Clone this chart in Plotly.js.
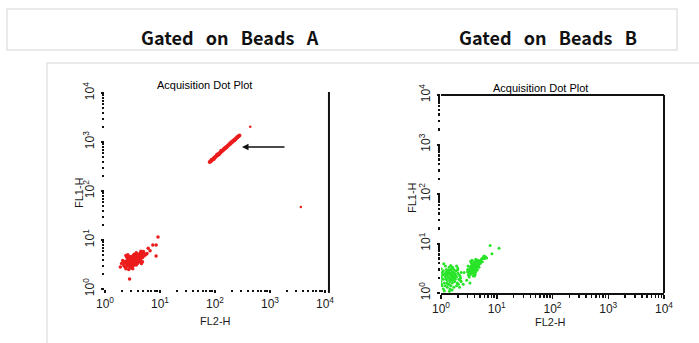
<!DOCTYPE html>
<html>
<head>
<meta charset="utf-8">
<script src="https://cdn.plot.ly/plotly-3.0.1.min.js"></script>
<style>html,body{margin:0;padding:0;background:#fff;}#chart{width:699px;height:343px;}</style>
</head>
<body>
<div id="chart"></div>
<script>
// ---- Data ----
const headerTexts = ["Gated\u00a0\u00a0 on\u00a0\u00a0 Beads\u00a0\u00a0 A", "Gated\u00a0\u00a0 on\u00a0\u00a0 Beads\u00a0\u00a0 B"];
const plotTitle = "Acquisition Dot Plot";
const xAxisTitle = "FL2-H";
const yAxisTitle = "FL1-H";
const tickValues = [1, 10, 100, 1000, 10000];
const tickLabels = ["10<sup>0</sup>", "10<sup>1</sup>", "10<sup>2</sup>", "10<sup>3</sup>", "10<sup>4</sup>"];

// Beads A: low cluster
const redClusterX = [3.1,3.3,2.9,3.5,3.0,3.4,2.8,3.6,3.2,3.7,2.7,3.9,3.1,2.6,4.1,3.4,2.9,3.8,3.3,2.5,
  4.3,3.6,2.8,4.0,3.0,3.5,2.4,4.5,3.2,2.7,3.9,4.4,2.6,3.1,2.3,4.7,3.7,2.5,4.2,3.4,
  4.9,2.2,3.8,3.0,3.3,2.9,4.6,2.1,5.1,3.6,2.4,4.1,3.2,2.8,5.3,3.5,2.0,4.4,3.1,2.7,
  3.9,5.0,3.3,2.6,4.8,3.7,2.3,4.2,3.0,3.4,1.9,5.5,2.9,4.0,3.6,2.5,4.5,3.2,3.8,2.8,
  5.8,3.5,2.2,4.3,3.1,2.7,4.0,3.4,3.0,3.7,2.4,4.6,2.6,4.8,
  6.6,7.4,8.5,8.5,9.2,2.8,6.1];
const redClusterY = [3.7,3.9,3.5,4.1,4.0,3.6,3.8,3.8,4.3,4.4,3.3,4.2,3.2,3.6,4.6,4.5,4.2,3.5,3.4,3.1,
  4.9,4.8,3.0,3.9,3.4,3.3,3.7,4.3,4.7,4.1,5.0,5.3,2.9,2.8,3.4,4.9,3.1,4.4,3.6,5.1,
  5.4,3.0,4.0,3.7,3.0,2.7,5.6,3.8,4.7,4.2,2.6,5.2,3.6,4.6,5.2,3.9,3.3,4.0,4.1,2.5,
  3.3,5.8,4.8,4.0,4.4,5.5,2.8,4.4,3.1,4.3,2.8,5.0,3.9,4.7,3.4,3.5,5.9,2.6,4.6,3.4,
  5.3,4.5,3.6,3.8,4.4,3.7,4.3,3.7,4.5,3.7,4.8,3.3,5.0,3.6,
  6.0,7.9,7.9,4.7,11.5,1.6,6.8];
// Beads A: bright diagonal population
const redLineX = [80,84,88,92,96,100,104,108,112,117,122,127,132,138,144,150,157,164,171,179,
  187,195,204,213,223,233,243,254,265,278,95,110,130,160,190,225,86,118,148,200];
const redLineY = [390,405,428,445,470,488,505,528,545,570,598,620,645,672,705,735,768,800,838,875,
  915,955,1000,1045,1090,1140,1190,1245,1300,1360,450,555,660,770,940,1080,430,565,740,990];
// Beads A: isolated events
const redOutlierX = [437, 3630];
const redOutlierY = [2040, 47];

// Beads B: first cluster
const greenCluster1X = [1.4,1.5,1.3,1.6,1.2,1.45,1.7,1.35,1.1,1.55,1.25,1.8,1.4,1.0,1.65,1.15,1.5,1.3,1.9,1.05,
  1.45,1.75,1.2,1.6,2.0,1.35,1.1,1.55,1.25,1.85,1.0,1.4,2.1,1.7,1.3,1.15,1.6,1.95,1.05,1.5,
  2.2,1.25,1.8,1.4,1.0,1.65,2.3,1.1,1.55,1.35,2.2,1.2,1.75,1.45,2.0,1.3,1.9,1.02,1.6,1.5,
  2.1,1.15,1.7,1.38,1.08,2.0,1.28,1.82,1.48,1.62,1.02,2.05,1.22,1.58,1.9,1.12,2.25,2.3,2.15,1.42];
const greenCluster1Y = [2.0,2.2,1.8,2.4,2.1,1.7,2.0,2.5,1.9,1.9,2.3,2.3,1.5,2.2,2.7,1.6,2.9,2.7,2.1,2.6,
  2.4,1.7,1.4,1.6,2.5,2.1,2.8,3.1,1.9,2.8,1.7,3.3,1.9,3.0,1.3,2.4,2.1,1.6,1.4,1.4,
  2.2,3.0,1.9,2.6,3.1,2.2,2.6,1.2,2.6,1.5,1.8,3.5,2.5,1.2,3.2,2.3,1.4,2.0,1.8,3.6,
  2.3,1.1,1.3,2.9,2.3,2.9,1.6,2.2,1.9,3.3,1.5,1.5,2.6,1.15,3.5,3.9,2.0,1.7,1.3,1.08];
// Beads B: second cluster and sparse events
const greenCluster2X = [3.9,3.7,4.1,3.5,4.3,3.8,4.0,3.6,4.4,3.3,4.2,3.9,3.4,4.6,3.7,4.0,3.2,4.5,3.8,4.1,
  3.5,4.8,3.6,4.3,3.3,5.0,3.9,4.4,3.1,4.7,3.6,5.2,4.0,3.4,4.9,3.8,5.4,4.2,3.0,4.6,
  3.7,5.7,4.1,3.2,5.1,4.5,3.0,6.0,3.5,4.3,6.3,3.1,5.5,3.9,3.05,4.8,6.6,3.2,4.0,5.9,
  3.4,3.6,4.2,3.8,
  2.6,2.9,3.3,2.5,7.6,11.0,8.2];
const greenCluster2Y = [3.2,3.0,3.5,2.8,3.7,3.4,2.9,3.3,3.3,2.7,3.1,3.8,3.1,3.9,2.6,3.6,2.9,3.5,2.8,4.1,
  3.5,4.2,2.5,3.0,3.3,4.4,2.5,4.3,2.6,3.6,3.8,4.7,3.3,2.4,3.9,3.1,4.9,2.7,3.0,4.6,
  3.5,5.2,2.4,2.3,4.0,2.9,2.7,4.9,4.1,4.5,5.4,2.3,4.3,4.3,3.5,3.3,5.1,2.1,2.2,5.6,
  4.4,4.6,4.8,2.2,
  2.6,1.8,1.6,1.5,9.1,8.0,6.2];

// ---- Helpers (config, not data) ----
const W = 699, H = 343;
const px = v => v / W;
const py = v => 1 - v / H;
const minorVals = [];
for (let d = 1; d <= 1000; d *= 10) for (let k = 2; k <= 9; k++) minorVals.push(k * d);

const red = 'rgb(236,28,28)';
const green = 'rgb(40,228,40)';
const tickFont = {family: 'Liberation Sans, Arial, sans-serif', size: 12, color: '#1a1a1a'};
const labelFont = {family: 'Liberation Sans, Arial, sans-serif', size: 11, color: '#1a1a1a'};
const titleFont = {family: 'Liberation Sans, Arial, sans-serif', size: 11, color: '#000'};
const headFont = {family: 'Noto Sans CJK JP, sans-serif', size: 18, color: '#111'};

function dotAxis(extra) {
  return Object.assign({
    type: 'log', range: [0, 4], tickmode: 'array', tickvals: tickValues, ticktext: tickLabels,
    ticks: 'outside', ticklen: 3, tickwidth: 2, tickcolor: '#111',
    minor: {tickmode: 'array', tickvals: minorVals, ticks: 'outside', ticklen: 2, tickwidth: 2, tickcolor: '#111'},
    showline: false, showgrid: false, zeroline: false, tickfont: tickFont, fixedrange: true
  }, extra);
}

function label(text, x, y, font, extra) {
  return Object.assign({text: text, xref: 'paper', yref: 'paper', x: px(x), y: py(y),
    xanchor: 'center', yanchor: 'middle', showarrow: false, font: font}, extra || {});
}

const traces = [
  {x: redClusterX, y: redClusterY, xaxis: 'x', yaxis: 'y', mode: 'markers', type: 'scatter',
   marker: {color: red, size: 3.5}, hoverinfo: 'skip'},
  {x: redLineX, y: redLineY, xaxis: 'x', yaxis: 'y', mode: 'markers', type: 'scatter',
   marker: {color: red, size: 4}, hoverinfo: 'skip'},
  {x: redOutlierX, y: redOutlierY, xaxis: 'x', yaxis: 'y', mode: 'markers', type: 'scatter',
   marker: {color: red, size: 2.5}, hoverinfo: 'skip'},
  {x: greenCluster1X, y: greenCluster1Y, xaxis: 'x2', yaxis: 'y2', mode: 'markers', type: 'scatter',
   marker: {color: green, size: 3}, hoverinfo: 'skip'},
  {x: greenCluster2X, y: greenCluster2Y, xaxis: 'x2', yaxis: 'y2', mode: 'markers', type: 'scatter',
   marker: {color: green, size: 3}, hoverinfo: 'skip'}
];

const layout = {
  width: W, height: H, margin: {l: 0, r: 0, t: 0, b: 0},
  paper_bgcolor: '#fff', plot_bgcolor: 'rgba(0,0,0,0)', showlegend: false,
  xaxis: dotAxis({domain: [px(105), px(325)], anchor: 'y', ticklabelstandoff: 1}),
  yaxis: dotAxis({domain: [py(289), py(93)], anchor: 'x', tickangle: -90, ticklabelstandoff: 2}),
  xaxis2: dotAxis({domain: [px(441), px(664)], anchor: 'y2', showline: true, linewidth: 2, linecolor: '#111',
    ticklen: 4, tickwidth: 1.5,
    minor: {tickmode: 'array', tickvals: minorVals, ticks: 'outside', ticklen: 3, tickwidth: 1.5, tickcolor: '#111'},
    ticklabelstandoff: 0}),
  yaxis2: dotAxis({domain: [py(293), py(95)], anchor: 'x2', tickangle: -90, ticklabelstandoff: 2,
    minor: {tickmode: 'array', tickvals: minorVals, ticks: 'outside', ticklen: 2, tickwidth: 2.5, tickcolor: '#111'}}),
  shapes: [
    {type: 'rect', xref: 'paper', yref: 'paper', x0: px(7), x1: px(677), y0: py(50), y1: py(9),
     line: {color: '#e2e2e2', width: 1.5}, layer: 'below'},
    {type: 'rect', xref: 'paper', yref: 'paper', x0: px(47), x1: px(710), y0: py(360), y1: py(63),
     line: {color: '#e2e2e2', width: 1.5}, layer: 'below'},
    {type: 'line', xref: 'x domain', yref: 'y domain', x0: 1.018, x1: 1.018, y0: -0.02, y1: 1.005,
     line: {color: '#111', width: 2}},
    {type: 'line', xref: 'x2 domain', yref: 'y2 domain', x0: 0, x1: 1, y0: 1, y1: 1,
     line: {color: '#111', width: 2}},
    {type: 'line', xref: 'x2 domain', yref: 'y2 domain', x0: 1, x1: 1, y0: 0, y1: 1,
     line: {color: '#111', width: 2}}
  ],
  annotations: [
    label('<b>' + headerTexts[0] + '</b>', 230, 37, headFont),
    label('<b>' + headerTexts[1] + '</b>', 548, 37, headFont),
    label(plotTitle, 204, 85, titleFont),
    label(plotTitle, 540, 88, titleFont),
    label(xAxisTitle, 215, 321, labelFont),
    label(xAxisTitle, 550, 322, labelFont),
    label(yAxisTitle, 79, 193, labelFont, {textangle: -90}),
    label(yAxisTitle, 412, 197, labelFont, {textangle: -90}),
    {text: '', xref: 'paper', yref: 'paper', x: px(242), y: py(147), showarrow: true,
     ax: 44, ay: 0, arrowhead: 2, arrowsize: 1, arrowwidth: 1.3, arrowcolor: '#111', standoff: 0}
  ]
};

Plotly.newPlot('chart', traces, layout, {staticPlot: true, displayModeBar: false});
</script>
</body>
</html>
